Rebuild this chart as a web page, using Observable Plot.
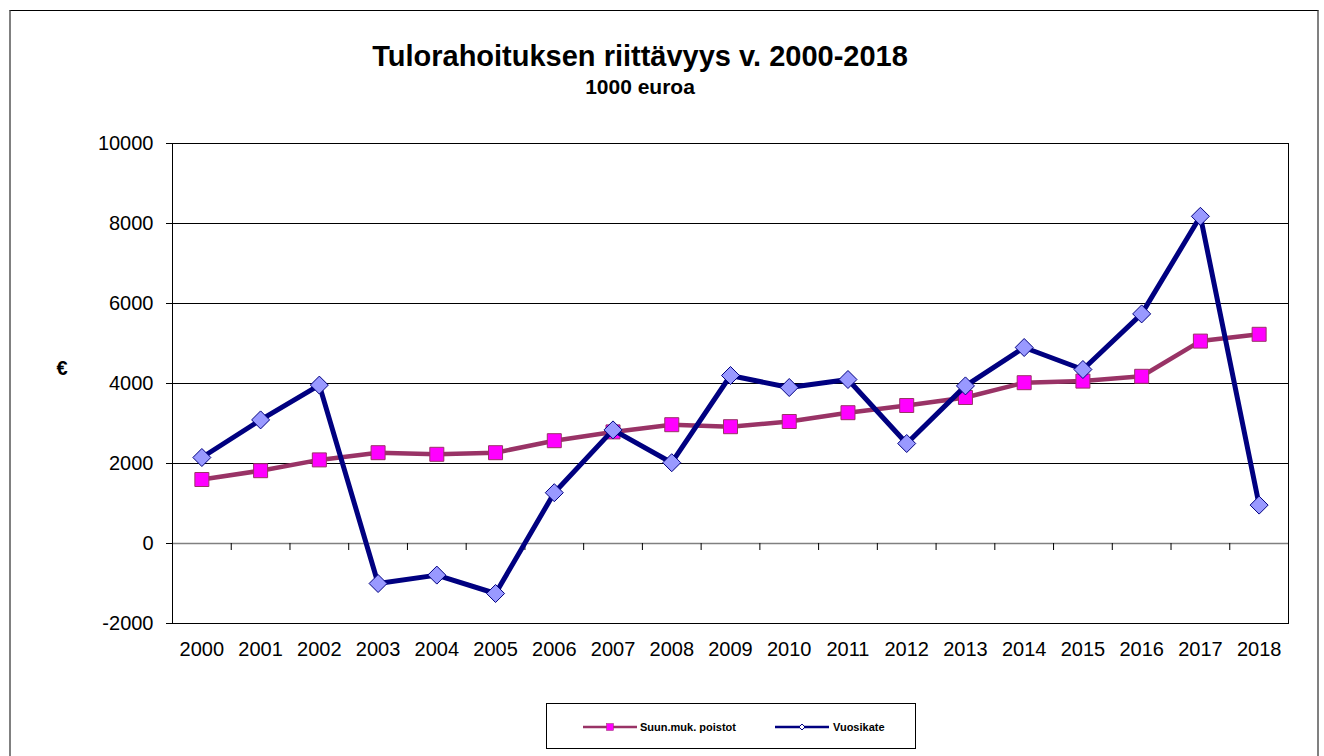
<!DOCTYPE html>
<html>
<head>
<meta charset="utf-8">
<script src="https://cdn.jsdelivr.net/npm/d3@7"></script>
<script src="https://cdn.jsdelivr.net/npm/@observablehq/plot@0.6"></script>
<style>
  html, body { margin: 0; padding: 0; background: #fff; overflow: hidden; }
  body { width: 1324px; height: 756px; position: relative; font-family: "Liberation Sans", Arial, sans-serif; }
  #frame { position: absolute; left: 9px; top: 10px; width: 1310px; height: 760px; border-top: 1px solid #000; border-left: 2px solid #808080; border-right: 2px solid #808080; box-sizing: border-box; }
  #chart { position: absolute; left: 0; top: 0; }
  .title { position: absolute; left: 640px; transform: translateX(-50%); white-space: nowrap; font-weight: bold; line-height: 1; color: #000; }
  #legend { position: absolute; left: 546px; top: 703px; width: 370px; height: 46px; border: 1px solid #000; box-sizing: border-box; background: #fff; }
</style>
</head>
<body>
<div id="frame"></div>
<div id="chart"></div>
<div class="title" id="t1" style="top:42px;font-size:29px;"></div>
<div class="title" id="t2" style="top:76px;font-size:21px;"></div>
<div class="title" id="ylab" style="left:62px;top:358px;font-size:20px;"></div>
<div id="legend"></div>
<script>
// ---- data ----
const titleText = "Tulorahoituksen riittävyys v. 2000-2018";
const subtitleText = "1000 euroa";
const yLabel = "€";
const years = ["2000","2001","2002","2003","2004","2005","2006","2007","2008","2009","2010","2011","2012","2013","2014","2015","2016","2017","2018"];
const seriesNames = ["Suun.muk. poistot", "Vuosikate"];
const poistot = [1600, 1820, 2090, 2270, 2230, 2270, 2570, 2790, 2970, 2920, 3050, 3270, 3450, 3650, 4020, 4060, 4180, 5060, 5230];
const vuosikate = [2150, 3090, 3960, -1000, -790, -1250, 1270, 2840, 2020, 4200, 3900, 4100, 2500, 3940, 4900, 4350, 5740, 8180, 960];
const yTicks = [-2000, 0, 2000, 4000, 6000, 8000, 10000];

// ---- styles ----
const colPoistotLine = "#993366", colPoistotFill = "#FF00FF";
const colVuosiLine = "#000080", colVuosiFill = "#9999FF";

document.getElementById("t1").textContent = titleText;
document.getElementById("t2").textContent = subtitleText;
document.getElementById("ylab").textContent = yLabel;

const idx = years.map((_, i) => i);
const dataP = idx.map(i => ({i, v: poistot[i]}));
const dataV = idx.map(i => ({i, v: vuosikate[i]}));
const boundaries = idx.slice(0, -1).map(i => i + 0.5);
const grid = yTicks.filter(t => t !== 0 && t !== yTicks[0] && t !== yTicks[yTicks.length - 1]);

const W = 1324, H = 700, mT = 143, mB = 77, mL = 172, mR = 36;
const yDom = [yTicks[0], yTicks[yTicks.length - 1]];
const tickLen = 7 * (yDom[1] - yDom[0]) / (H - mT - mB);

const squareSym = { draw(ctx, size) { const r = Math.sqrt(size / Math.PI); ctx.moveTo(-r, -r); ctx.lineTo(r, -r); ctx.lineTo(r, r); ctx.lineTo(-r, r); ctx.closePath(); } };
const diamondSym = { draw(ctx, size) { const r = Math.sqrt(size / Math.PI); ctx.moveTo(0, -r); ctx.lineTo(r, 0); ctx.lineTo(0, r); ctx.lineTo(-r, 0); ctx.closePath(); } };

const chart = Plot.plot({
  width: W, height: H,
  marginTop: mT, marginBottom: mB, marginLeft: mL, marginRight: mR,
  style: { fontFamily: "Liberation Sans, Arial, sans-serif", fontSize: "20px", color: "#000", background: "transparent" },
  x: { type: "linear", domain: [-0.5, years.length - 0.5], nice: false },
  y: { domain: yDom, nice: false },
  marks: [
    Plot.ruleY(grid, { stroke: "#000", strokeWidth: 1 }),
    Plot.ruleY([0], { stroke: "#808080", strokeWidth: 1.5 }),
    Plot.ruleX(boundaries, { x: d => d, y1: 0, y2: -tickLen, stroke: "#000", strokeWidth: 1 }),
    Plot.frame({ stroke: "#000", strokeWidth: 1 }),
    Plot.axisY({ ticks: yTicks, tickFormat: d => String(d), tickSize: 6, tickPadding: 13, fontSize: 20, label: null }),
    Plot.axisX({ ticks: idx, tickFormat: i => years[i], tickSize: 0, tickPadding: 18, fontSize: 20, label: null }),
    Plot.line(dataP, { x: "i", y: "v", stroke: colPoistotLine, strokeWidth: 4.5 }),
    Plot.dot(dataP, { x: "i", y: "v", symbol: squareSym, r: 7, fill: colPoistotFill, stroke: colPoistotLine, strokeWidth: 1 }),
    Plot.line(dataV, { x: "i", y: "v", stroke: colVuosiLine, strokeWidth: 5 }),
    Plot.dot(dataV, { x: "i", y: "v", symbol: diamondSym, r: 9, fill: colVuosiFill, stroke: colVuosiLine, strokeWidth: 1 })
  ]
});
document.getElementById("chart").appendChild(chart);

// ---- legend ----
const lg = d3.select("#legend").append("svg").attr("width", 368).attr("height", 44)
  .style("font-family", "Liberation Sans, Arial, sans-serif");
const items = [
  { name: seriesNames[0], x0: 36, x1: 90, line: colPoistotLine, fill: colPoistotFill, shape: "square", tx: 93 },
  { name: seriesNames[1], x0: 228, x1: 282, line: colVuosiLine, fill: colVuosiFill, shape: "diamond", tx: 286 }
];
const cy = 23;
items.forEach(it => {
  lg.append("line").attr("x1", it.x0).attr("x2", it.x1).attr("y1", cy).attr("y2", cy).attr("stroke", it.line).attr("stroke-width", 2.5);
  const mx = (it.x0 + it.x1) / 2;
  if (it.shape === "square") {
    lg.append("rect").attr("x", mx - 3.5).attr("y", cy - 3.5).attr("width", 7).attr("height", 7).attr("fill", it.fill).attr("stroke", it.line).attr("stroke-width", 0.5);
  } else {
    lg.append("path").attr("d", `M${mx},${cy-3}L${mx+3},${cy}L${mx},${cy+3}L${mx-3},${cy}Z`).attr("fill", "#fff").attr("stroke", it.line).attr("stroke-width", 1);
  }
  lg.append("text").attr("x", it.tx).attr("y", cy + 4).attr("font-size", 11).attr("font-weight", "bold").attr("fill", "#000").text(it.name);
});
</script>
</body>
</html>
